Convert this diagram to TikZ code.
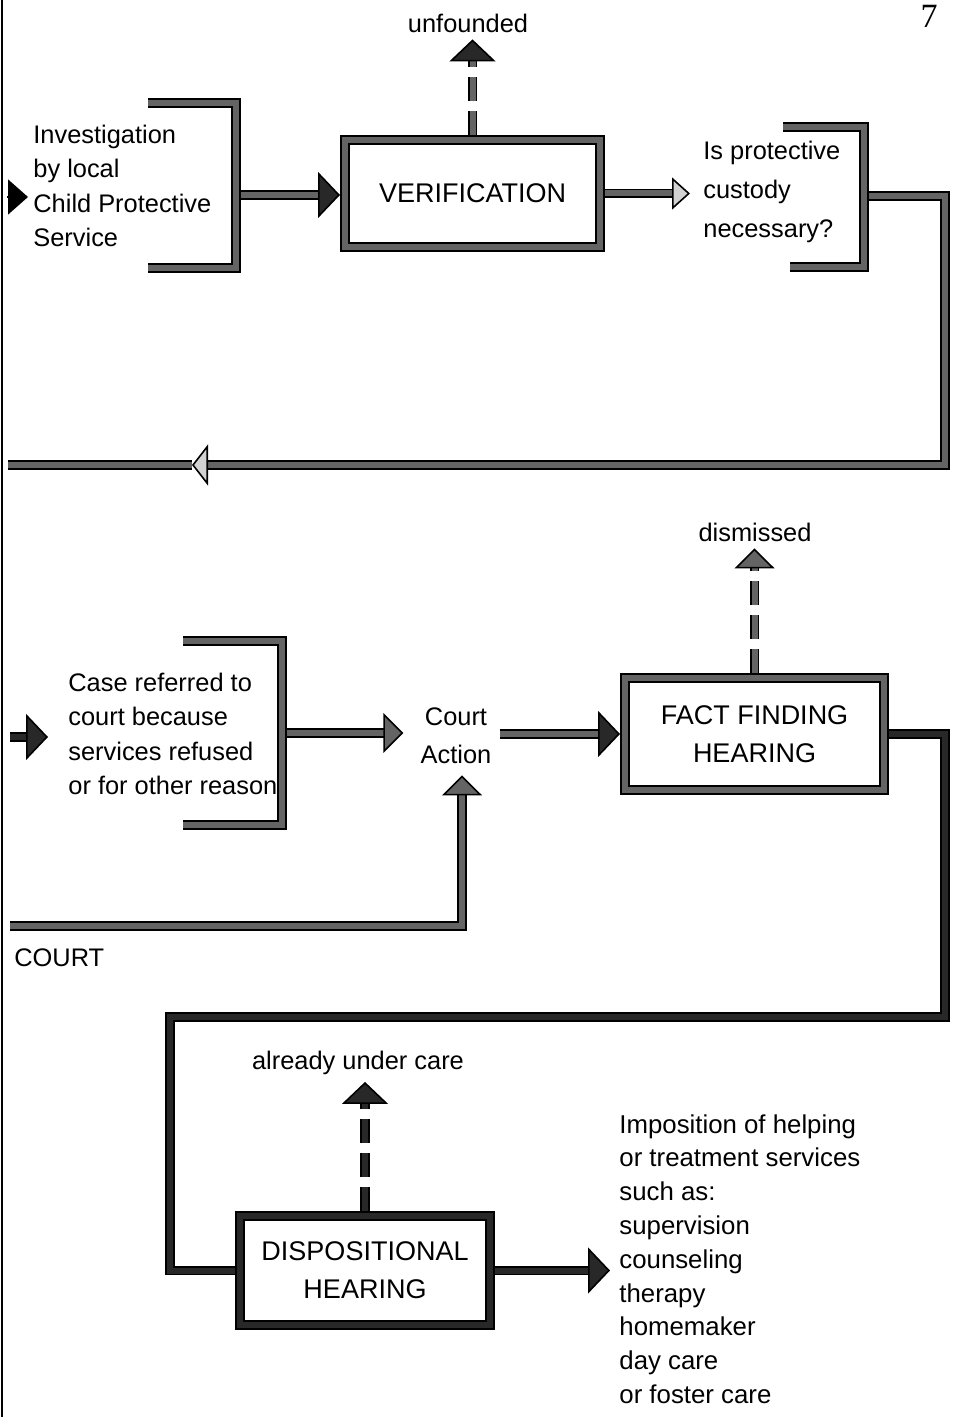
\documentclass[tikz,border=0pt]{standalone}
\usepackage{fontspec}
\setmainfont{Liberation Sans}
\newfontfamily\pagefont{Liberation Serif}
\usetikzlibrary{arrows.meta, positioning}
\definecolor{cBar}{RGB}{100,100,100}
\definecolor{cDark}{RGB}{40,40,40}
\definecolor{cLight}{RGB}{210,210,210}
\tikzset{
	bar/.style      ={draw=black, line width=0.9pt, double=cBar, double distance=3pt, line join=miter},
	darkbar/.style  ={bar, double=cDark},
	dashbar/.style  ={bar, dash pattern=on 12pt off 5pt},
	stage/.style    ={rectangle, bar, outer sep=2.4pt, align=center, font=\fontsize{13.5}{19}\selectfont},
	note/.style     ={align=left, anchor=west, inner sep=0pt},
	tipdark/.style  ={-{Triangle[length=11pt, width=23pt, fill=cDark, line width=0.8pt]}},
	tipgrey/.style  ={-{Triangle[length=10pt, width=20pt, fill=cBar, line width=0.8pt]}},
	tiplight/.style ={-{Triangle[length=9pt, width=16pt, fill=cLight, line width=0.8pt]}},
}

\begin{document}
\begin{tikzpicture}[x=0.5pt, y=-0.5pt, font=\fontsize{12.7}{17.2}\selectfont]
	\useasboundingbox (0,0) rectangle (953,1417);
	% page edge and page number
	\draw[line width=1pt] (2,0) -- (2,1417);
	\node[font=\pagefont\fontsize{17}{17}\selectfont] (pg) at (929,16) {7};

	% --- first row: local agency
	\node[note] (inv) at (33,186) {Investigation\\by local\\Child Protective\\Service};
	\node[stage, minimum width=127.7pt, minimum height=53.7pt] (ver) at (472.5,193.5) {VERIFICATION};
	\node[note, font=\fontsize{12.7}{19.5}\selectfont] (chk) at (703,192) {Is protective\\custody\\necessary?};
	\node (unf) at (468,23) {unfounded};

	\draw[bar] (148,103) -| (236,268) -- (148,268);
	\draw[bar] (783,127) -| (864,267) -- (790,267);

	\coordinate (invin) at (7,197);
	\coordinate (invbr) at (241,195);
	\coordinate (chkbr) at (869,196);
	\coordinate (retup) at (945,465);
	\coordinate (retarr) at (192,465);
	\coordinate (retend) at (8,465);

	\draw[draw=black, line width=0.8pt, -{Triangle[length=10pt, width=17.5pt, fill=black]}, shorten >=2.5pt] (invin) -- (invin -| inv.west);
	\draw[bar, tipdark] (invbr) -- (invbr -| ver.west);
	\draw[dashbar, tipdark] (ver.north) -- (ver.north |- unf.south);
	\draw[bar, tiplight, shorten >=6.5pt] (ver.east) -- (ver.east -| chk.west);
	\draw[bar, -{Triangle[length=8pt, width=20.5pt, fill=cLight, line width=0.8pt]}] (chkbr) -| (retup) -- (retarr);
	\draw[bar] (retarr) -- (retend);

	% --- second row: court
	\node[note] (ref) at (68,734) {Case referred to\\court because\\services refused\\or for other reason};
	\node[align=center, inner sep=0pt, font=\fontsize{12.7}{19}\selectfont] (act) at (456,736) {Court\\Action};
	\node[stage, minimum width=129.7pt, minimum height=56.2pt] (fact) at (754.5,734) {FACT FINDING\\HEARING};
	\node (dis) at (755,532) {dismissed};
	\node[note] (court) at (14,958) {COURT};

	\draw[bar] (183,641) -| (282,825) -- (183,825);

	\coordinate (refin) at (10,737);
	\coordinate (refbr) at (287,733);
	\coordinate (courtin) at (10,926);

	\draw[darkbar, tipdark, shorten >=10pt] (refin) -- (refin -| ref.west);
	\draw[bar, tipgrey, shorten >=8.5pt] (refbr) -- (refbr -| act.west);
	\draw[bar, tipdark] ([xshift=4pt]act.east |- fact.west) -- (fact.west);
	\draw[bar, tipgrey] (courtin) -| ([xshift=3pt, yshift=-5.5pt]act.south);
	\draw[dashbar, tipgrey] (fact.north) -- (fact.north |- dis.south);

	% --- third row: disposition
	\node[stage, double=cDark, minimum width=125.2pt, minimum height=54.7pt] (disp) at (365,1270.5) {DISPOSITIONAL\\HEARING};
	\node (care) at (358,1063) {already under care};
	\node[note, font=\fontsize{12.9}{16.9}\selectfont] (imp) at (619,1259) {Imposition of helping\\or treatment services\\such as:\\supervision\\counseling\\therapy\\homemaker\\day care\\or foster care};

	\coordinate (loopa) at (945,1017);
	\coordinate (loopb) at (170,1017);

	\draw[darkbar] (fact.east) -| (loopa) -- (loopb) |- (disp.west);
	\draw[dashbar, double=cDark, tipdark] (disp.north) -- (disp.north |- care.south);
	\draw[darkbar, tipdark, shorten >=4.5pt] (disp.east) -- (disp.east -| imp.west);
\end{tikzpicture}
\end{document}
